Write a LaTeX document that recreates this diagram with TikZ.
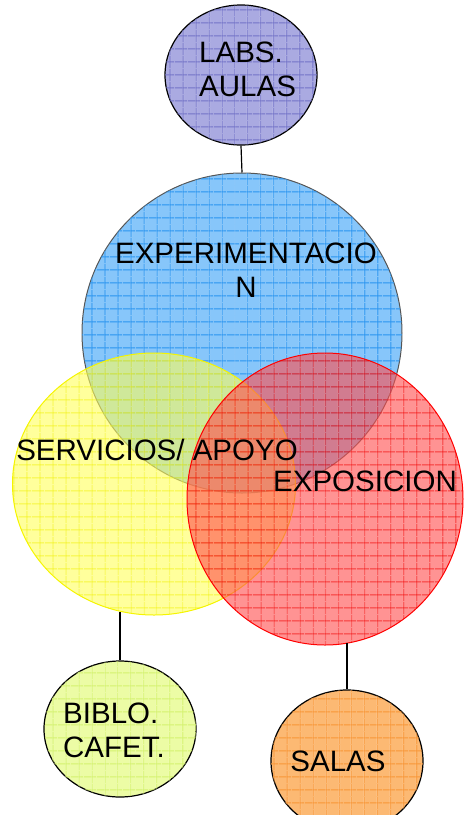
\documentclass[tikz,border=0pt]{standalone}
\usepackage{fontspec}
\setmainfont{Liberation Sans}
\usetikzlibrary{positioning}
\usetikzlibrary{shapes.geometric}
\usetikzlibrary{patterns.meta}
\definecolor{labsfill}{RGB}{170,170,225}
\definecolor{labsgrid}{RGB}{115,115,200}
\definecolor{expfill}{RGB}{135,198,250}
\definecolor{expgrid}{RGB}{40,148,240}
\definecolor{expline}{RGB}{85,85,85}
\definecolor{servfill}{RGB}{255,255,90}
\definecolor{servgrid}{RGB}{240,240,0}
\definecolor{servline}{RGB}{245,245,0}
\definecolor{expofill}{RGB}{255,80,80}
\definecolor{expogrid}{RGB}{240,0,0}
\definecolor{biblofill}{RGB}{236,252,165}
\definecolor{biblogrid}{RGB}{212,242,110}
\definecolor{salasfill}{RGB}{252,185,115}
\definecolor{salasgrid}{RGB}{248,150,55}
\tikzset{gridded/.style={postaction={pattern={Lines[distance=13pt,angle=0,line width=1.1pt]},pattern color=#1},
postaction={pattern={Lines[distance=13pt,angle=90,line width=1.1pt]},pattern color=#1}}}
\tikzset{zone/.style={ellipse,inner sep=0pt,line width=1pt}}
\tikzset{bubble/.style={ellipse,draw=black,inner sep=0pt,line width=1.2pt,
minimum width=152pt,minimum height=138pt}}
\tikzset{tag/.style={font=\fontsize{29.5}{34}\selectfont,inner sep=0pt}}

\begin{document}
\begin{tikzpicture}[x=1pt,y=-1pt]
    \useasboundingbox (0,0) rectangle (464,815);

        \node[zone,draw=expline,fill=expfill,gridded=expgrid,
              minimum width=320pt,minimum height=320pt] (circExp) at (242,333) {};
        \node[zone,draw=servline,fill=servfill,fill opacity=0.6,gridded=servgrid,
              minimum width=283pt,minimum height=262pt] (circServ) at (154,484) {};
        \node[zone,draw=red,fill=expofill,fill opacity=0.62,gridded=expogrid,
              minimum width=276pt,minimum height=292pt] (circExpo) at (325,499) {};

        \node[bubble,fill=labsfill,gridded=labsgrid,minimum height=140pt] (ovLabs) at (241,75) {};
        \node[bubble,fill=biblofill,gridded=biblogrid,minimum height=136pt] (ovBiblo) at (120,729) {};
        \node[bubble,fill=salasfill,gridded=salasgrid,minimum height=142pt] (ovSalas) at (347,761) {};

        \draw [line width=1.2pt] (ovLabs.south) -- (circExp.north);
        \draw [line width=1.2pt] (ovBiblo.north) -- (ovBiblo.north |- circServ.255);
        \draw [line width=1.2pt] (ovSalas.north) -- (ovSalas.north |- circExpo.279);

        \node[tag,align=left,anchor=west] (txtLabs) at ([xshift=-42pt,yshift=6pt]ovLabs) {LABS.\\AULAS};
        \node[tag,align=center] (txtExp) at ([xshift=4pt,yshift=63pt]circExp) {EXPERIMENTACIO\\N};
        \node[tag] (txtServ) at (157,450) {SERVICIOS/ APOYO};
        \node[tag] (txtExpo) at (365,481) {EXPOSICION};
        \node[tag,align=left,anchor=west] (txtBiblo) at ([xshift=-57pt,yshift=-1pt]ovBiblo) {BIBLO.\\CAFET.};
        \node[tag] (txtSalas) at ([xshift=-9pt]ovSalas) {SALAS};

\end{tikzpicture}
\end{document}
